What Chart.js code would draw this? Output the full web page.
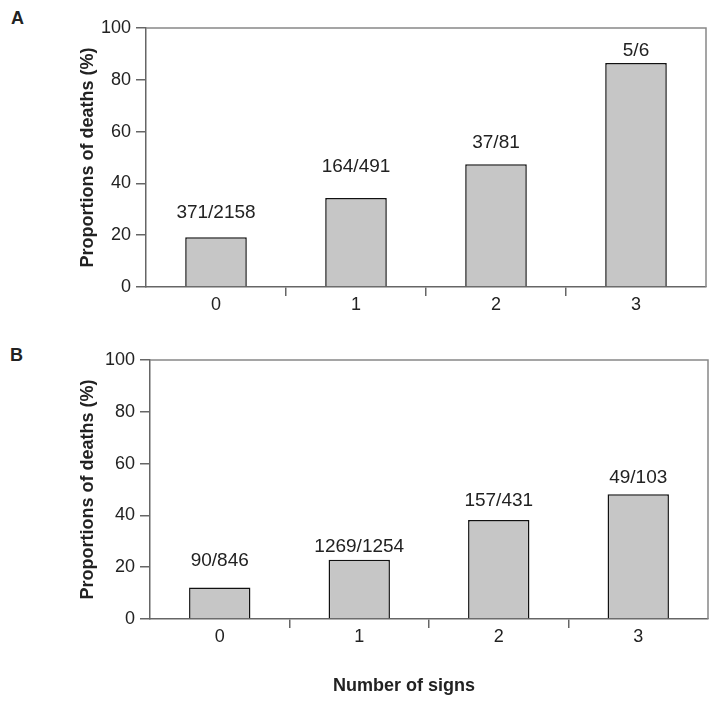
<!DOCTYPE html>
<html>
<head>
<meta charset="utf-8">
<script src="https://cdn.jsdelivr.net/npm/chart.js@4.4.0/dist/chart.umd.min.js"></script>
<style>
  body { margin: 0; background: #fff; width: 720px; height: 704px; position: relative; overflow: hidden; font-family: "Liberation Sans", Arial, sans-serif; }
  .panel { position: absolute; left: 0; width: 720px; }
  .lbl { position: absolute; font-weight: bold; font-size: 18px; color: #222; line-height: 1; }
</style>
</head>
<body>
<div class="lbl" style="left:11px; top:9px;">A</div>
<div class="panel" style="top:0; height:330px;"><canvas id="chart-a"></canvas></div>
<div class="lbl" style="left:10px; top:346px;">B</div>
<div class="panel" style="top:330px; height:374px;"><canvas id="chart-b"></canvas></div>
<div class="lbl" style="left:333px; top:676px;">Number of signs</div>

<script>
const signs = ["0", "1", "2", "3"];
const yTicks = [0, 20, 40, 60, 80, 100];

// panel A
const pctA = [19.2, 34.4, 47.4, 86.5];
const countsA = ["371/2158", "164/491", "37/81", "5/6"];
// panel B
const pctB = [12.2, 22.9, 38.2, 48.2];
const countsB = ["90/846", "1269/1254", "157/431", "49/103"];

// how far above each bar the count sits (px)
const gapA = [25, 31, 21, 12];
const gapB = [27, 13, 19, 16];

const FONT = "'Liberation Sans', Arial, sans-serif";
const INK = "#222";
const AXIS = "#666";

const boxPlugin = {
  id: "box",
  afterDatasetsDraw(chart) {
    const { ctx, chartArea: a } = chart;
    ctx.save();
    ctx.strokeStyle = "#888";
    ctx.lineWidth = 1.5;
    ctx.beginPath();
    ctx.moveTo(a.left, a.top);
    ctx.lineTo(a.right, a.top);
    ctx.lineTo(a.right, a.bottom);
    ctx.stroke();
    ctx.restore();
  }
};

const countLabels = {
  id: "counts",
  afterDatasetsDraw(chart, args, opts) {
    const { ctx } = chart;
    const meta = chart.getDatasetMeta(0);
    ctx.save();
    ctx.font = "19px " + FONT;
    ctx.fillStyle = INK;
    ctx.textAlign = "center";
    ctx.textBaseline = "middle";
    meta.data.forEach((bar, i) => {
      ctx.fillText(opts.texts[i], bar.x, bar.y - opts.gaps[i]);
    });
    ctx.restore();
  }
};

function buildPanel(canvasId, values, texts, gaps, axisWidth, pad, xHeight) {
  const ctx = document.getElementById(canvasId);
  return new Chart(ctx, {
    type: "bar",
    data: {
      labels: signs,
      datasets: [{
        data: values,
        backgroundColor: "#c6c6c6",
        borderColor: "#111",
        borderWidth: 1.5,
        barPercentage: 0.44,
        categoryPercentage: 1
      }]
    },
    options: {
      responsive: true,
      maintainAspectRatio: false,
      animation: false,
      layout: { padding: pad },
      plugins: {
        legend: { display: false },
        tooltip: { enabled: false },
        counts: { texts, gaps }
      },
      scales: {
        x: {
          afterFit: (s) => { s.height = xHeight; },
          border: { display: true, color: AXIS, width: 1.5 },
          grid: {
            offset: true,
            drawOnChartArea: false,
            drawTicks: true,
            tickLength: 9,
            lineWidth: 1.5,
            color: (c) => (c.index === undefined || c.index === 0) ? "rgba(0,0,0,0)" : AXIS
          },
          ticks: { color: INK, font: { family: FONT, size: 18 }, padding: -2 }
        },
        y: {
          min: 0,
          max: 100,
          afterFit: (s) => { s.width = axisWidth; },
          afterBuildTicks: (s) => { s.ticks = yTicks.map(v => ({ value: v })); },
          border: { display: true, color: AXIS, width: 1.5 },
          grid: { drawOnChartArea: false, drawTicks: true, tickLength: 10, lineWidth: 1.5, color: AXIS },
          ticks: { color: INK, font: { family: FONT, size: 18 }, padding: 5 },
          title: {
            display: true,
            text: "Proportions of deaths (%)",
            color: INK,
            font: { family: FONT, size: 18, weight: "bold" },
            padding: { top: 77, bottom: 0 }
          }
        }
      }
    },
    plugins: [boxPlugin, countLabels]
  });
}

buildPanel("chart-a", pctA, countsA, gapA, 146, { top: 28, right: 14, left: 0, bottom: 0 }, 43);
buildPanel("chart-b", pctB, countsB, gapB, 150, { top: 30, right: 12, left: 0, bottom: 0 }, 85);
</script>
</body>
</html>
